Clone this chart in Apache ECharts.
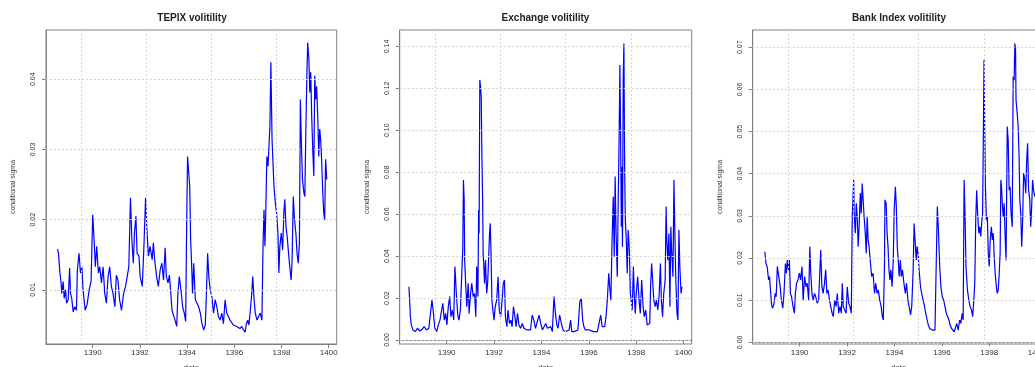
<!DOCTYPE html>
<html>
<head>
<meta charset="utf-8">
<script src="https://cdn.jsdelivr.net/npm/echarts@6/dist/echarts.min.js"></script>
<style>
html,body{margin:0;padding:0;background:#fff;overflow:hidden;}
#chart{width:1060px;height:367px;}
</style>
</head>
<body>
<div id="chart"></div>
<script>
// ---------- DATA ----------
const xTickLabels = [1390, 1392, 1394, 1396, 1398, 1400];
const vGridYears = [1389.52, 1392.27, 1395.01, 1397.77];

const titles = ["TEPIX volitility", "Exchange volitility", "Bank Index volitility"];
const yAxisName = "conditional sigma";
const xAxisName = "date";

const tepixYTicks = [0.01, 0.02, 0.03, 0.04];
const exchangeYTicks = [0.00, 0.02, 0.04, 0.06, 0.08, 0.10, 0.12, 0.14];
const bankYTicks = [0.00, 0.01, 0.02, 0.03, 0.04, 0.05, 0.06, 0.07];

const tepixDates = [1388.51,1388.55,1388.61,1388.66,1388.69,1388.75,1388.79,1388.85,1388.89,1388.96,
1389.02,1389.06,1389.11,1389.17,1389.24,1389.31,1389.35,1389.42,1389.48,1389.54,
1389.59,1389.68,1389.76,1389.85,1389.93,1390.00,1390.06,1390.11,1390.17,1390.24,
1390.30,1390.37,1390.44,1390.51,1390.58,1390.65,1390.72,1390.79,1390.86,1390.94,
1391.00,1391.07,1391.14,1391.22,1391.31,1391.39,1391.46,1391.53,1391.60,1391.66,
1391.72,1391.77,1391.83,1391.88,1391.96,1392.01,1392.10,1392.17,1392.24,1392.29,
1392.36,1392.43,1392.52,1392.57,1392.64,1392.71,1392.78,1392.86,1392.93,1393.00,
1393.07,1393.12,1393.19,1393.25,1393.31,1393.36,1393.42,1393.49,1393.56,1393.61,
1393.67,1393.74,1393.81,1393.88,1393.94,1393.98,1394.02,1394.06,1394.11,1394.15,
1394.19,1394.23,1394.28,1394.35,1394.42,1394.49,1394.56,1394.63,1394.70,1394.77,
1394.81,1394.87,1394.92,1394.98,1395.05,1395.12,1395.19,1395.26,1395.33,1395.40,
1395.47,1395.54,1395.61,1395.68,1395.75,1395.82,1395.89,1395.96,1396.03,1396.10,
1396.17,1396.24,1396.32,1396.39,1396.46,1396.51,1396.57,1396.62,1396.68,1396.74,
1396.78,1396.84,1396.89,1396.96,1397.03,1397.10,1397.17,1397.22,1397.26,1397.30,
1397.34,1397.38,1397.43,1397.47,1397.51,1397.55,1397.60,1397.64,1397.68,1397.74,
1397.79,1397.85,1397.89,1397.93,1397.99,1398.05,1398.10,1398.14,1398.19,1398.24,
1398.30,1398.35,1398.41,1398.45,1398.50,1398.55,1398.61,1398.66,1398.71,1398.76,
1398.80,1398.85,1398.89,1398.95,1398.99,1399.03,1399.07,1399.11,1399.16,1399.20,
1399.24,1399.28,1399.33,1399.37,1399.41,1399.45,1399.49,1399.54,1399.58,1399.62,
1399.66,1399.70,1399.75,1399.79,1399.83,1399.87,1399.92];
const tepixValues = [0.0158,0.0152,0.0124,0.0110,0.0095,0.0112,0.0088,0.0100,0.0081,0.0086,
0.0131,0.0095,0.0088,0.0069,0.0076,0.0071,0.0129,0.0152,0.0124,0.0133,
0.0100,0.0071,0.0079,0.0100,0.0112,0.0207,0.0171,0.0133,0.0162,0.0124,
0.0133,0.0110,0.0133,0.0095,0.0081,0.0119,0.0133,0.0105,0.0095,0.0076,
0.0121,0.0114,0.0086,0.0071,0.0095,0.0105,0.0119,0.0133,0.0231,0.0171,
0.0138,0.0181,0.0205,0.0152,0.0148,0.0119,0.0105,0.0162,0.0231,0.0190,
0.0148,0.0162,0.0143,0.0167,0.0138,0.0119,0.0105,0.0129,0.0138,0.0114,
0.0160,0.0119,0.0110,0.0121,0.0095,0.0071,0.0064,0.0057,0.0048,0.0095,
0.0119,0.0100,0.0076,0.0067,0.0055,0.0190,0.0290,0.0288,0.0248,0.0171,
0.0138,0.0095,0.0138,0.0086,0.0081,0.0076,0.0067,0.0052,0.0043,0.0050,
0.0086,0.0152,0.0119,0.0100,0.0090,0.0067,0.0086,0.0076,0.0062,0.0057,
0.0067,0.0052,0.0086,0.0067,0.0062,0.0057,0.0057,0.0050,0.0052,0.0048,
0.0050,0.0045,0.0048,0.0043,0.0040,0.0052,0.0057,0.0050,0.0071,0.0095,
0.0119,0.0086,0.0067,0.0057,0.0062,0.0067,0.0057,0.0167,0.0214,0.0162,
0.0219,0.0290,0.0276,0.0305,0.0333,0.0424,0.0314,0.0281,0.0248,0.0224,
0.0210,0.0181,0.0124,0.0162,0.0181,0.0157,0.0210,0.0229,0.0190,0.0176,
0.0152,0.0133,0.0114,0.0143,0.0233,0.0200,0.0181,0.0152,0.0138,0.0167,
0.0371,0.0300,0.0257,0.0238,0.0233,0.0324,0.0395,0.0452,0.0429,0.0381,
0.0410,0.0348,0.0295,0.0262,0.0405,0.0371,0.0390,0.0343,0.0290,0.0329,
0.0314,0.0286,0.0238,0.0210,0.0200,0.0286,0.0257];

const exchangeDates = [1388.41,1388.44,1388.47,1388.51,1388.58,1388.68,1388.77,1388.87,1388.97,1389.05,
1389.15,1389.25,1389.33,1389.38,1389.43,1389.50,1389.58,1389.65,1389.72,1389.79,
1389.84,1389.90,1389.96,1390.01,1390.07,1390.13,1390.18,1390.24,1390.30,1390.35,
1390.41,1390.47,1390.52,1390.58,1390.64,1390.68,1390.71,1390.74,1390.76,1390.81,
1390.85,1390.91,1390.95,1391.01,1391.06,1391.12,1391.18,1391.23,1391.27,1391.32,
1391.35,1391.37,1391.40,1391.43,1391.46,1391.49,1391.52,1391.54,1391.57,1391.60,
1391.64,1391.69,1391.73,1391.77,1391.81,1391.84,1391.87,1391.91,1391.95,1392.00,
1392.05,1392.11,1392.17,1392.22,1392.28,1392.34,1392.39,1392.44,1392.48,1392.54,
1392.59,1392.65,1392.71,1392.76,1392.82,1392.88,1392.93,1392.99,1393.05,1393.12,
1393.19,1393.26,1393.33,1393.40,1393.47,1393.54,1393.61,1393.68,1393.75,1393.82,
1393.90,1393.97,1394.04,1394.11,1394.18,1394.25,1394.32,1394.39,1394.46,1394.53,
1394.59,1394.65,1394.70,1394.77,1394.84,1394.91,1395.00,1395.08,1395.17,1395.23,
1395.28,1395.37,1395.45,1395.54,1395.62,1395.68,1395.74,1395.79,1395.85,1395.93,
1396.02,1396.10,1396.19,1396.27,1396.36,1396.44,1396.50,1396.56,1396.61,1396.67,
1396.73,1396.78,1396.84,1396.88,1396.93,1396.98,1397.03,1397.07,1397.11,1397.15,
1397.20,1397.24,1397.28,1397.31,1397.34,1397.37,1397.39,1397.42,1397.45,1397.48,
1397.51,1397.54,1397.58,1397.62,1397.66,1397.71,1397.75,1397.79,1397.83,1397.88,
1397.92,1397.96,1398.00,1398.06,1398.12,1398.17,1398.23,1398.29,1398.34,1398.40,
1398.46,1398.51,1398.57,1398.61,1398.65,1398.70,1398.74,1398.80,1398.85,1398.91,
1398.97,1399.02,1399.06,1399.11,1399.16,1399.22,1399.26,1399.29,1399.33,1399.38,
1399.42,1399.46,1399.50,1399.55,1399.59,1399.63,1399.67,1399.72,1399.76,1399.80,
1399.84,1399.89,1399.93];
const exchangeValues = [0.0254,0.0190,0.0111,0.0072,0.0048,0.0040,0.0056,0.0043,0.0051,0.0064,
0.0048,0.0056,0.0048,0.0190,0.0143,0.0056,0.0040,0.0072,0.0095,0.0143,
0.0175,0.0095,0.0127,0.0072,0.0159,0.0207,0.0111,0.0143,0.0095,0.0350,
0.0222,0.0119,0.0095,0.0143,0.0318,0.0429,0.0763,0.0667,0.0381,0.0254,
0.0159,0.0270,0.0127,0.0222,0.0270,0.0207,0.0222,0.0111,0.0350,0.0207,
0.0620,0.0508,0.1240,0.1208,0.1160,0.0858,0.0667,0.0413,0.0350,0.0270,
0.0381,0.0222,0.0270,0.0381,0.0508,0.0556,0.0429,0.0190,0.0143,0.0095,
0.0159,0.0190,0.0302,0.0143,0.0111,0.0190,0.0270,0.0286,0.0111,0.0064,
0.0143,0.0079,0.0095,0.0064,0.0159,0.0111,0.0064,0.0127,0.0072,0.0056,
0.0079,0.0056,0.0064,0.0048,0.0056,0.0048,0.0119,0.0095,0.0056,0.0048,
0.0119,0.0079,0.0048,0.0056,0.0079,0.0056,0.0048,0.0064,0.0040,0.0207,
0.0127,0.0072,0.0056,0.0119,0.0079,0.0048,0.0040,0.0040,0.0048,0.0095,
0.0040,0.0040,0.0048,0.0048,0.0183,0.0199,0.0095,0.0064,0.0048,0.0056,
0.0048,0.0040,0.0040,0.0048,0.0040,0.0048,0.0119,0.0064,0.0072,0.0064,
0.0119,0.0190,0.0318,0.0254,0.0190,0.0477,0.0683,0.0397,0.0779,0.0508,
0.0302,0.0667,0.0985,0.1311,0.0985,0.0540,0.0826,0.0445,0.1240,0.1414,
0.0826,0.0572,0.0477,0.0318,0.0524,0.0429,0.0222,0.0190,0.0143,0.0350,
0.0207,0.0127,0.0222,0.0302,0.0190,0.0127,0.0286,0.0159,0.0111,0.0143,
0.0072,0.0064,0.0079,0.0270,0.0365,0.0270,0.0190,0.0159,0.0190,0.0143,
0.0222,0.0365,0.0190,0.0111,0.0222,0.0286,0.0636,0.0477,0.0381,0.0508,
0.0159,0.0540,0.0413,0.0302,0.0763,0.0508,0.0286,0.0127,0.0095,0.0524,
0.0350,0.0222,0.0254];

const bankDates = [1388.53,1388.58,1388.63,1388.69,1388.73,1388.77,1388.81,1388.85,1388.91,1388.97,
1389.01,1389.06,1389.12,1389.18,1389.23,1389.29,1389.34,1389.40,1389.44,1389.48,
1389.53,1389.57,1389.61,1389.66,1389.72,1389.78,1389.82,1389.87,1389.93,1389.99,
1390.04,1390.10,1390.15,1390.21,1390.27,1390.32,1390.38,1390.43,1390.47,1390.52,
1390.57,1390.63,1390.68,1390.74,1390.80,1390.85,1390.89,1390.94,1390.99,1391.05,
1391.10,1391.15,1391.20,1391.26,1391.31,1391.37,1391.42,1391.48,1391.54,1391.59,
1391.65,1391.70,1391.76,1391.80,1391.84,1391.90,1391.96,1392.01,1392.07,1392.12,
1392.18,1392.22,1392.25,1392.28,1392.30,1392.35,1392.39,1392.43,1392.47,1392.51,
1392.56,1392.60,1392.64,1392.68,1392.72,1392.77,1392.81,1392.85,1392.89,1392.93,
1392.99,1393.04,1393.10,1393.16,1393.21,1393.27,1393.32,1393.38,1393.44,1393.49,
1393.53,1393.58,1393.60,1393.65,1393.69,1393.73,1393.77,1393.81,1393.85,1393.90,
1393.95,1393.99,1394.04,1394.08,1394.12,1394.16,1394.20,1394.25,1394.29,1394.34,
1394.40,1394.46,1394.51,1394.57,1394.62,1394.68,1394.73,1394.79,1394.83,1394.87,
1394.92,1394.96,1395.00,1395.04,1395.10,1395.15,1395.21,1395.27,1395.32,1395.38,
1395.43,1395.49,1395.54,1395.60,1395.66,1395.71,1395.77,1395.81,1395.85,1395.91,
1395.96,1396.02,1396.08,1396.13,1396.19,1396.24,1396.30,1396.35,1396.41,1396.47,
1396.52,1396.58,1396.63,1396.69,1396.75,1396.80,1396.86,1396.90,1396.94,1396.98,
1397.02,1397.08,1397.14,1397.19,1397.25,1397.30,1397.35,1397.39,1397.43,1397.47,
1397.51,1397.56,1397.60,1397.64,1397.68,1397.72,1397.75,1397.78,1397.81,1397.84,
1397.88,1397.92,1397.96,1398.00,1398.04,1398.09,1398.13,1398.17,1398.21,1398.25,
1398.30,1398.34,1398.38,1398.42,1398.46,1398.49,1398.52,1398.55,1398.59,1398.63,
1398.67,1398.71,1398.76,1398.80,1398.84,1398.88,1398.92,1398.97,1399.01,1399.05,
1399.08,1399.11,1399.13,1399.18,1399.22,1399.26,1399.29,1399.33,1399.37,1399.41,
1399.45,1399.50,1399.54,1399.58,1399.62,1399.66,1399.71,1399.75,1399.79,1399.83,
1399.87,1399.92];
const bankValues = [0.0215,0.0187,0.0180,0.0148,0.0156,0.0124,0.0093,0.0081,0.0089,0.0116,
0.0108,0.0180,0.0156,0.0132,0.0100,0.0081,0.0116,0.0187,0.0164,0.0195,
0.0172,0.0195,0.0116,0.0108,0.0085,0.0069,0.0116,0.0140,0.0148,0.0164,
0.0148,0.0180,0.0100,0.0156,0.0132,0.0140,0.0100,0.0227,0.0164,0.0116,
0.0100,0.0116,0.0108,0.0093,0.0100,0.0164,0.0219,0.0132,0.0116,0.0140,
0.0172,0.0116,0.0124,0.0100,0.0085,0.0069,0.0061,0.0100,0.0085,0.0116,
0.0069,0.0085,0.0069,0.0140,0.0085,0.0077,0.0069,0.0132,0.0093,0.0085,
0.0069,0.0298,0.0338,0.0385,0.0306,0.0259,0.0330,0.0298,0.0227,0.0274,
0.0354,0.0306,0.0377,0.0338,0.0298,0.0259,0.0211,0.0298,0.0243,0.0227,
0.0187,0.0156,0.0164,0.0116,0.0140,0.0116,0.0124,0.0100,0.0085,0.0061,
0.0053,0.0180,0.0338,0.0330,0.0259,0.0227,0.0172,0.0148,0.0172,0.0132,
0.0195,0.0314,0.0369,0.0322,0.0227,0.0195,0.0156,0.0195,0.0156,0.0172,
0.0140,0.0116,0.0140,0.0100,0.0085,0.0065,0.0085,0.0172,0.0282,0.0243,
0.0195,0.0227,0.0211,0.0172,0.0132,0.0116,0.0100,0.0085,0.0069,0.0053,
0.0041,0.0033,0.0029,0.0029,0.0033,0.0029,0.0025,0.0322,0.0274,0.0180,
0.0132,0.0108,0.0100,0.0085,0.0069,0.0061,0.0053,0.0041,0.0033,0.0029,
0.0025,0.0029,0.0045,0.0029,0.0053,0.0045,0.0069,0.0053,0.0385,0.0298,
0.0180,0.0124,0.0100,0.0085,0.0077,0.0061,0.0100,0.0140,0.0290,0.0361,
0.0306,0.0259,0.0274,0.0251,0.0282,0.0306,0.0480,0.0670,0.0496,0.0369,
0.0290,0.0298,0.0211,0.0180,0.0243,0.0274,0.0243,0.0259,0.0203,0.0164,
0.0132,0.0116,0.0124,0.0164,0.0211,0.0385,0.0369,0.0330,0.0298,0.0330,
0.0251,0.0195,0.0512,0.0480,0.0361,0.0369,0.0306,0.0274,0.0630,0.0622,
0.0709,0.0694,0.0575,0.0543,0.0512,0.0441,0.0338,0.0306,0.0227,0.0290,
0.0401,0.0385,0.0354,0.0433,0.0472,0.0361,0.0338,0.0274,0.0322,0.0385,
0.0361,0.0346];

// ---------- CHART ----------
const zip = (xs, ys) => xs.map((x, i) => [x, ys[i]]);

const panels = [
  { left: 46,    width: 290.7, ymin: 0.0023,  ymax: 0.0470, ticks: tepixYTicks,    data: zip(tepixDates, tepixValues),       titleX: 192 },
  { left: 399.7, width: 292,   ymin: -0.0019, ymax: 0.1478, ticks: exchangeYTicks, data: zip(exchangeDates, exchangeValues), titleX: 545.5 },
  { left: 752.7, width: 292,   ymin: -0.0004, ymax: 0.0741, ticks: bankYTicks,     data: zip(bankDates, bankValues),         titleX: 899 }
];

const TOP = 30, HEIGHT = 314;
const XMIN = 1388.02, XMAX = 1400.34;
const frameColor = '#808080';
const textColor = '#333333';
const font = 'Liberation Sans, Arial, sans-serif';

const option = {
  animation: false,
  backgroundColor: '#ffffff',
  textStyle: { fontFamily: font },
  grid: panels.map(p => ({
    left: p.left, top: TOP, width: p.width, height: HEIGHT,
    outerBoundsMode: 'none', containLabel: false,
    show: true, borderColor: frameColor, borderWidth: 1, backgroundColor: 'transparent'
  })),
  xAxis: panels.map((p, i) => ({
    type: 'value', gridIndex: i, min: XMIN, max: XMAX,
    name: xAxisName, nameLocation: 'middle', nameGap: 20,
    nameTextStyle: { fontSize: 8, color: textColor, fontFamily: font },
    axisLine: { show: true, lineStyle: { color: frameColor } },
    axisTick: { show: true, inside: false, length: 4, lineStyle: { color: frameColor }, customValues: xTickLabels },
    axisLabel: { show: true, fontSize: 8, color: textColor, margin: 5, fontFamily: font,
                 customValues: xTickLabels, formatter: v => String(Math.round(v)) },
    splitLine: { show: false }
  })),
  yAxis: panels.map((p, i) => ({
    type: 'value', gridIndex: i, min: p.ymin, max: p.ymax,
    name: yAxisName, nameLocation: 'middle', nameGap: 29, nameRotate: 90,
    nameTextStyle: { fontSize: 7, color: textColor, fontFamily: font },
    axisLine: { show: true, lineStyle: { color: frameColor } },
    axisTick: { show: true, inside: false, length: 4, lineStyle: { color: frameColor }, customValues: p.ticks },
    axisLabel: { show: true, fontSize: 7, color: textColor, rotate: 90, margin: 9, fontFamily: font,
                 customValues: p.ticks, formatter: v => v.toFixed(2) },
    splitLine: { show: false }
  })),
  graphic: panels.map((p, i) => ({
    type: 'text', x: p.titleX, y: 18,
    style: { text: titles[i], align: 'center', verticalAlign: 'middle',
             font: 'bold 10px ' + font, fill: '#222222' }
  })),
  series: panels.flatMap((p, i) => [
    {
      type: 'line', xAxisIndex: i, yAxisIndex: i, data: [], z: 1, silent: true,
      markLine: {
        silent: true, symbol: 'none', label: { show: false }, animation: false,
        lineStyle: { color: '#d6d6d6', type: [2, 2], width: 1 },
        data: vGridYears.map(v => ({ xAxis: v })).concat(p.ticks.map(t => ({ yAxis: t })))
      }
    },
    {
      type: 'line', xAxisIndex: i, yAxisIndex: i, data: p.data, z: 3,
      showSymbol: false, symbol: 'none', silent: true,
      lineStyle: { color: '#0000ff', width: 1.2 }
    }
  ])
};

const chart = echarts.init(document.getElementById('chart'), null, { renderer: 'canvas' });
chart.setOption(option);
</script>
</body>
</html>
